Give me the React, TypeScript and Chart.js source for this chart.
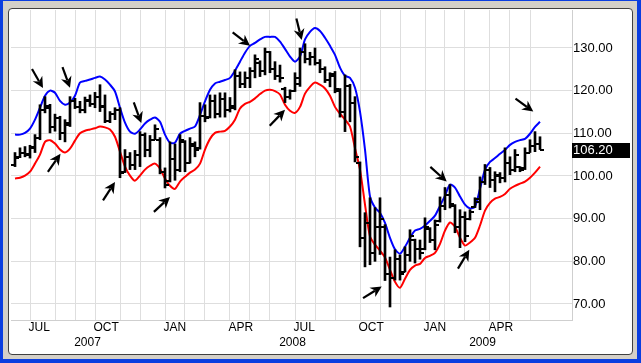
import React, { useEffect, useRef } from 'react';
import { Chart, registerables } from 'chart.js';

Chart.register(...registerables);

// Weekly OHLC bars (week index 0 = week of 11 Jun 2007)
const opens = [
  102.5, 104.5, 105.5, 105, 106.5, 109, 115.5, 116, 111.5, 113.5,
  110, 112, 117.5, 116.2, 115.5, 117.5, 116.8, 118.5, 116.5, 113,
  114.5, 115.5, 101, 104.5, 102.5, 105, 109.5, 106, 108.5, 108.5,
  101, 98.8, 104, 101.5, 108, 103, 107, 106.5, 114, 113.8,
  117.5, 114.5, 118, 115.5, 116, 123.5, 121.5, 123, 124.5, 126.5,
  124.5, 129, 125, 123.5, 120.5, 118.5, 120, 121.5, 129, 127.5,
  128, 126.5, 125, 122.5, 123.5, 120, 115, 121, 117, 103,
  85.5, 89, 82, 88, 88, 77, 76, 80.5, 77.5, 81.5,
  85, 83, 83, 87.5, 85, 89.5, 93, 95.5, 93, 88,
  90.5, 90, 92.8, 94, 98.5, 101.5, 99, 100, 99.5, 103,
  101.5, 102, 101.8, 105.5, 107, 107.5,
];
const highs = [
  105.5, 106.6, 106.9, 107.2, 109.7, 116.7, 118.6, 116.8, 114.5, 114,
  113.2, 118.6, 118.2, 117.5, 118.5, 119, 119.6, 121.4, 119, 115.1,
  116, 116, 106.2, 105.5, 106, 110.4, 110.1, 109.5, 112, 109,
  101.9, 108, 107.5, 109.7, 108.3, 109, 108, 117.2, 116.7, 119,
  119, 119.5, 119.5, 118.4, 124.9, 124.4, 124.4, 125.4, 128.4, 127,
  130, 129.2, 126.8, 126, 120.8, 120.2, 124.2, 130, 131, 129,
  130, 127.3, 125.6, 124.2, 124.5, 120.5, 123.7, 121.5, 118.6, 103.3,
  91.4, 94.9, 92.6, 94.9, 88.6, 81, 82.7, 81.5, 83.4, 87.4,
  85.2, 85, 90.2, 87.9, 89.7, 95.1, 97.3, 98, 93.3, 92.1,
  91.6, 92.1, 94.9, 99.8, 102.7, 102, 101, 100.8, 106.6, 104.5,
  106.2, 102.2, 106.6, 108.5, 110.4, 109.2,
];
const lows = [
  102.2, 104.3, 104.5, 104.2, 105.5, 108.5, 114.8, 110.1, 110.5, 108.5,
  108, 111.6, 115.8, 114.8, 114.8, 116.3, 116, 115.1, 112.5, 112.5,
  113.2, 99.6, 100.8, 101.5, 101.5, 102.2, 104.5, 104.5, 108.5, 100.5,
  97.2, 98.6, 99, 101, 101, 103, 104.5, 106.3, 112.7, 113.6,
  113.6, 113.8, 113.8, 115, 115.5, 120.7, 120.7, 120.7, 123, 123.3,
  123.7, 124.2, 122.6, 122, 117.2, 118, 119.8, 121, 126.5, 126,
  126, 124.2, 121.9, 120.9, 119.5, 113.8, 110.4, 112.7, 103.3, 83.4,
  78.7, 79.2, 80, 81.6, 75.5, 69.3, 75.6, 75.6, 77.5, 80,
  79.6, 80.5, 82.7, 84.4, 82.7, 89.2, 92.1, 92.5, 86.7, 83.2,
  84.6, 89.7, 92.6, 92.1, 98, 97.3, 96.3, 98.4, 98.6, 100.3,
  101, 101, 101.5, 105.5, 105.7, 106.2,
];
const closes = [
  104.2, 105.5, 105.2, 106.8, 109, 115.5, 116.5, 111.5, 113.5, 110,
  112.5, 117.5, 116.2, 115.5, 117.8, 116.8, 118.5, 116.2, 113, 114.5,
  115.5, 100.8, 104.5, 102.5, 105, 109.5, 106, 108.5, 111, 101,
  98, 104, 101.5, 108.5, 103, 107.5, 106, 114, 113.5, 117.5,
  114.5, 118, 115.5, 116.5, 123.5, 121.5, 123, 124.5, 127.5, 124.5,
  129, 125, 123.5, 123, 118.5, 120, 123, 129, 127.5, 128,
  126.5, 125, 122.5, 124, 120.5, 115, 121, 117, 104.5, 85.5,
  89, 82, 88, 90, 77, 76, 80.5, 77, 81.5, 86,
  83, 82, 88, 85, 88.5, 93, 95.5, 93.5, 88, 90.5,
  86, 91.5, 94.5, 98.5, 101.5, 99, 100.2, 99.5, 103, 101.5,
  105, 101.5, 105.5, 107, 107.5, 106.2,
];
const upperBand = [
  109.7, 109.7, 110.1, 111.1, 113.2, 116, 118.8, 120, 119.5, 117.6,
  116.7, 117.2, 118.8, 121.9, 122.3, 122.6, 123, 123.3, 122.6, 121.4,
  119.8, 116, 112.5, 110.4, 109.9, 110.9, 112.3, 113.2, 113.7, 112.7,
  109.7, 107.8, 107.8, 109.9, 110.6, 111.1, 111.6, 114.3, 117.5, 120.2,
  121.7, 122.1, 122.5, 123, 124.7, 126.8, 128.9, 130.5, 131.2, 132,
  132.6, 132.6, 132.6, 131.5, 129.8, 128, 126.8, 128, 132, 133.8,
  134.7, 134, 132.4, 130.5, 128.4, 125.4, 123.5, 123, 120.7, 115.1,
  106.2, 95.2, 92.6, 91.4, 89, 85.5, 82.8, 81.8, 83.4, 85.5,
  87.2, 87.6, 88.4, 89.5, 90.7, 93, 95.4, 98, 97.3, 95.2,
  93.3, 92.4, 92.8, 97, 101.5, 103.3, 104.2, 105.2, 106.1, 107.3,
  108, 108.4, 108.7, 109.9, 111.5, 112.7,
];
const lowerBand = [
  99.4, 99.6, 100.1, 101, 102.9, 105, 108, 108.4, 107.6, 106.2,
  105.5, 106.4, 108.3, 110, 110.6, 110.9, 111.2, 111.6, 111.4, 110.9,
  109.2, 105.7, 102.2, 100.1, 98.9, 100.1, 101.5, 102.4, 102.9, 101.7,
  99.4, 97.7, 97, 98.7, 99.8, 100.8, 101.5, 102.9, 106.2, 108.7,
  110.1, 110.4, 110.6, 111.6, 113.2, 115.8, 116.9, 117.4, 118.2, 119.2,
  120, 120.2, 119.9, 119.1, 116.7, 115.3, 114.8, 116.2, 119.3, 120.9,
  121.9, 121.4, 120.5, 118.8, 116.2, 114.6, 113.2, 111.6, 106.5, 101.5,
  93.3, 85.8, 83.9, 82.5, 80.9, 78, 75.2, 73.8, 75.9, 78,
  79, 79.4, 80.8, 81.3, 82, 84.1, 87.2, 89.1, 88.1, 85.5,
  83.7, 84.4, 85.5, 88.4, 91.9, 93.7, 94.7, 95.1, 95.8, 97,
  97.7, 98.2, 98.7, 99.6, 100.8, 102.2,
];

// First weekly bar of each month (grid lines)
const monthTickIdx = [3, 8, 12, 16, 21, 25, 30, 34, 38, 43, 47, 51, 56, 60, 64, 69, 73, 77, 82, 86, 90, 95, 99, 103];
const monthLabelIdx = [3, 16, 30, 43, 56, 69, 82, 95];
const monthLabels = ['JUL', 'OCT', 'JAN', 'APR', 'JUL', 'OCT', 'JAN', 'APR'];
const yearLabels = ['2007', '2008', '2009'];
const yearFirstIdx = [0, 30, 82];
const yearLastIdx = [29, 81, 105];
const yTicks = [70, 80, 90, 100, 110, 120, 130];
const lastPrice = 106.2;

// Annotation arrows: tip position (week index, price) and pointing direction (deg, screen)
const arrowIdx = [5.6, 11, 9.1, 25.26, 20, 31, 47, 57.34, 54, 73.34, 86.34, 90.86, 103.66];
const arrowVal = [120.6, 120.7, 105.2, 112.4, 98.6, 95.1, 130.5, 131.9, 115.5, 74.1, 98.7, 82.7, 115.1];
const arrowAngle = [60, 70, -55, 70, -57, -43, 38, 76, -46, -32, 42, -59, 36];

const FONT = "'Liberation Sans', Arial, sans-serif";

export default function App() {
  const ref = useRef<HTMLCanvasElement>(null);

  useEffect(() => {
    document.body.style.margin = '0';
    const canvas = ref.current;
    if (!canvas) return;

    const mk = (left: boolean) => {
      const c = document.createElement('canvas');
      c.width = 8;
      c.height = 2;
      const g = c.getContext('2d')!;
      g.fillStyle = '#000';
      g.fillRect(left ? 0 : 4, 0, 4, 2);
      return c;
    };
    const openImg = mk(true);
    const closeImg = mk(false);

    const overlay = {
      id: 'overlay',
      afterDatasetsDraw(chart: any) {
        const { ctx, scales } = chart;
        const x = scales.x;
        const y = scales.y;
        ctx.save();
        ctx.fillStyle = '#000';
        ctx.strokeStyle = '#000';
        ctx.lineCap = 'butt';
        arrowIdx.forEach((idx, k) => {
          const tx = x.getPixelForValue(idx);
          const ty = y.getPixelForValue(arrowVal[k]);
          const a = (arrowAngle[k] * Math.PI) / 180;
          const dx = Math.cos(a);
          const dy = Math.sin(a);
          const L = 22;
          const hl = 11;
          const hw = 5.5;
          const bx = tx - dx * hl;
          const by = ty - dy * hl;
          ctx.lineWidth = 2.2;
          ctx.beginPath();
          ctx.moveTo(tx - dx * L, ty - dy * L);
          ctx.lineTo(tx - dx * (hl - 3), ty - dy * (hl - 3));
          ctx.stroke();
          ctx.beginPath();
          ctx.moveTo(tx, ty);
          ctx.lineTo(bx - dy * hw, by + dx * hw);
          ctx.lineTo(tx - dx * hl * 0.7, ty - dy * hl * 0.7);
          ctx.lineTo(bx + dy * hw, by - dx * hw);
          ctx.closePath();
          ctx.fill();
        });
        ctx.restore();
      },
      afterDraw(chart: any) {
        const { ctx, scales, chartArea } = chart;
        const x = scales.x;
        const y = scales.y;
        ctx.save();
        ctx.fillStyle = '#000';
        ctx.textBaseline = 'middle';
        ctx.font = `12px ${FONT}`;
        ctx.textAlign = 'left';
        monthLabelIdx.forEach((idx, k) => {
          ctx.fillText(monthLabels[k], x.getPixelForValue(idx) - 1.5, chartArea.bottom + 7.5);
        });
        ctx.textAlign = 'center';
        yearLabels.forEach((lab, k) => {
          const cx = (x.getPixelForValue(yearFirstIdx[k]) + x.getPixelForValue(yearLastIdx[k])) / 2;
          ctx.fillText(lab, cx, chartArea.bottom + 22.5);
        });
        const py = Math.round(y.getPixelForValue(lastPrice));
        ctx.fillStyle = '#000';
        ctx.fillRect(chartArea.right, py - 7, 58, 15);
        ctx.fillStyle = '#fff';
        ctx.font = `13px ${FONT}`;
        ctx.textAlign = 'left';
        ctx.fillText(lastPrice.toFixed(2), chartArea.right + 1, py + 0.5);
        ctx.restore();
      },
    };

    const chart = new Chart(canvas, {
      type: 'line',
      data: {
        datasets: [
          {
            type: 'bar',
            data: highs.map((h, i) => ({ x: i, y: [lows[i], h] })),
            backgroundColor: '#000',
            borderWidth: 0,
            barThickness: 2,
            order: 1,
          } as any,
          {
            type: 'line',
            data: opens.map((v, i) => ({ x: i, y: v })),
            showLine: false,
            pointStyle: openImg,
            pointRadius: 2,
            order: 0,
          } as any,
          {
            type: 'line',
            data: closes.map((v, i) => ({ x: i, y: v })),
            showLine: false,
            pointStyle: closeImg,
            pointRadius: 2,
            order: 0,
          } as any,
          {
            type: 'line',
            data: upperBand.map((v, i) => ({ x: i, y: v })),
            borderColor: '#0000ff',
            borderWidth: 2,
            pointRadius: 0,
            tension: 0.25,
            fill: false,
            order: 2,
          },
          {
            type: 'line',
            data: lowerBand.map((v, i) => ({ x: i, y: v })),
            borderColor: '#ff0000',
            borderWidth: 2,
            pointRadius: 0,
            tension: 0.25,
            fill: false,
            order: 2,
          },
        ],
      },
      options: {
        animation: false,
        responsive: false,
        events: [],
        layout: { padding: { left: 11, top: 10, right: 9, bottom: 9 } },
        plugins: { legend: { display: false }, tooltip: { enabled: false } },
        scales: {
          x: {
            type: 'linear',
            min: -0.8,
            max: 111.4,
            offset: false,
            grid: { color: '#dedede', drawTicks: false, offset: false },
            border: { display: true, color: '#cfcfcf' },
            ticks: { display: false, callback: () => '' },
            afterBuildTicks: (s: any) => {
              s.ticks = monthTickIdx.map((v) => ({ value: v }));
            },
            afterFit: (s: any) => {
              s.height = 34;
            },
          },
          y: {
            type: 'linear',
            position: 'right',
            min: 66.25,
            max: 138.906,
            beginAtZero: false,
            grid: { color: '#dedede', drawTicks: false },
            border: { display: true, color: '#cfcfcf' },
            ticks: {
              padding: 1,
              color: '#000',
              font: { family: FONT, size: 13 },
              callback: (v: any) => Number(v).toFixed(2),
            },
            afterBuildTicks: (s: any) => {
              s.ticks = yTicks.map((v) => ({ value: v }));
            },
            afterFit: (s: any) => {
              s.width = 60;
            },
          },
        },
      },
      plugins: [overlay],
    } as any);

    return () => chart.destroy();
  }, []);

  return (
    <div style={{ position: 'relative', width: 641, height: 363, background: '#0b3ee0', overflow: 'hidden' }}>
      <div style={{ position: 'absolute', left: 3, top: 1, right: 4, bottom: 4, background: '#d4d0c8' }} />
      <div
        style={{
          position: 'absolute',
          left: 8,
          top: 8,
          width: 625,
          height: 347,
          boxSizing: 'border-box',
          background: '#fff',
          border: '1px solid #404040',
          borderRadius: 4,
        }}
      />
      <canvas ref={ref} width={641} height={363} style={{ position: 'absolute', left: 0, top: 0, width: 641, height: 363 }} />
    </div>
  );
}
